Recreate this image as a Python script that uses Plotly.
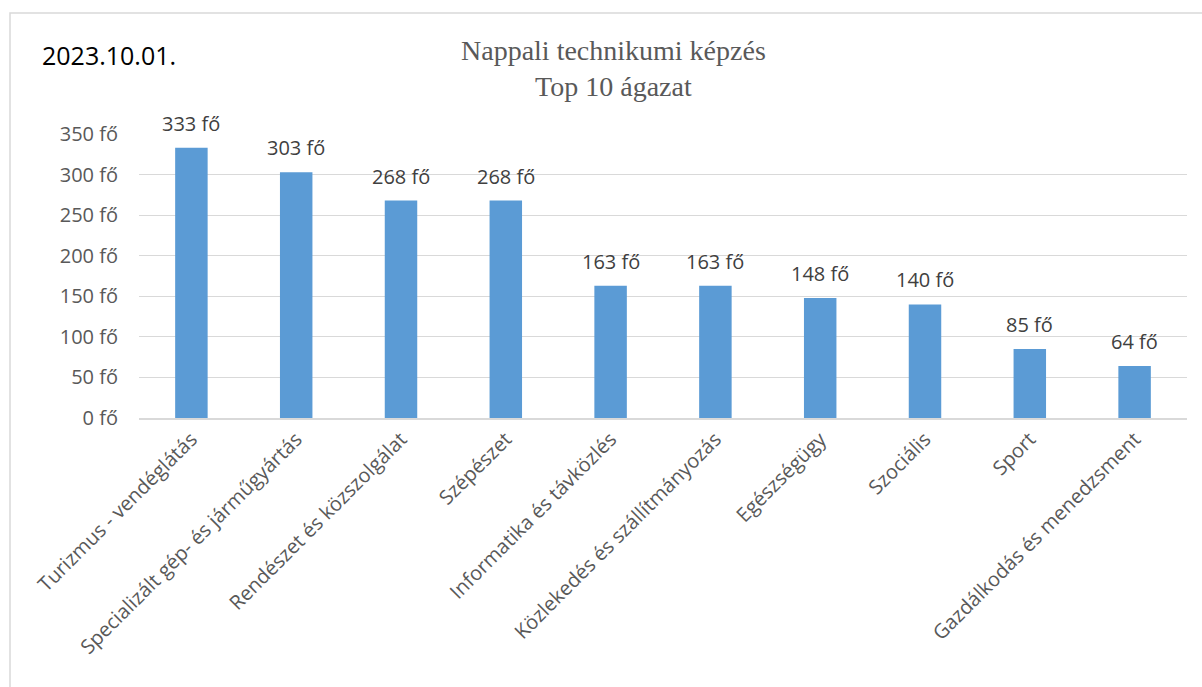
import plotly.graph_objects as go

# Top 10 ágazat, nappali technikumi képzés
agazatok = [
    "Turizmus - vendéglátás",
    "Specializált gép- és járműgyártás",
    "Rendészet és közszolgálat",
    "Szépészet",
    "Informatika és távközlés",
    "Közlekedés és szállítmányozás",
    "Egészségügy",
    "Szociális",
    "Sport",
    "Gazdálkodás és menedzsment",
]
letszam = [333, 303, 268, 268, 163, 163, 148, 140, 85, 64]
y_ticks = [0, 50, 100, 150, 200, 250, 300, 350]

W, H = 1202, 687
L, R, T, B = 139, 15, 134, 269
pw, ph = W - L - R, H - T - B
SANS = "Open Sans, Noto Sans, sans-serif"


def px_x(x):
    return (x - L) / pw


def px_y(y):
    return (H - B - y) / ph


fig = go.Figure()
fig.add_trace(go.Bar(
    x=agazatok, y=letszam,
    marker=dict(color="#5B9BD5", line=dict(width=0)),
    hovertemplate="%{x}: %{y} fő<extra></extra>",
))

# value labels above the bars
for name, v in zip(agazatok, letszam):
    fig.add_annotation(
        x=name, y=v, text=f"{v} fő", showarrow=False,
        yanchor="bottom", yshift=9,
        font=dict(family=SANS, size=20, color="#404040"),
    )

fig.update_layout(
    width=W, height=H,
    margin=dict(l=L, r=R, t=T, b=B),
    paper_bgcolor="white", plot_bgcolor="white",
    bargap=0.69,
    showlegend=False,
    font=dict(family=SANS, color="#595959"),
)

fig.update_xaxes(
    tickangle=-45, tickfont=dict(size=20, color="#595959"),
    showgrid=False, showline=True, linecolor="#d9d9d9", linewidth=1.5,
    ticks="", ticklen=0,
)
fig.update_yaxes(
    range=[0, 350], tickvals=y_ticks, ticktext=[f"{v} fő" for v in y_ticks],
    tickfont=dict(size=20, color="#595959"),
    showgrid=True, gridcolor="#d9d9d9", gridwidth=1.2,
    zeroline=False, showline=False, ticks="", ticklabelstandoff=20,
)

# title
fig.add_annotation(
    text="Nappali technikumi képzés<br>Top 10 ágazat",
    xref="paper", yref="paper", x=px_x(613), y=px_y(68),
    xanchor="center", yanchor="middle", showarrow=False,
    font=dict(family="Liberation Serif, Times New Roman, serif", size=28, color="#595959"),
)
# date
fig.add_annotation(
    text="2023.10.01.",
    xref="paper", yref="paper", x=px_x(40), y=px_y(55),
    xanchor="left", yanchor="middle", showarrow=False,
    font=dict(family=SANS, size=25, color="#000000"),
)

# chart frame
fig.add_shape(
    type="rect", xref="paper", yref="paper",
    x0=px_x(10), x1=px_x(1240), y0=px_y(720), y1=px_y(13),
    line=dict(color="#d9d9d9", width=1.5), layer="below",
)

# page body has a default 8px margin; drop it so the figure sits at 0,0
fig.write_html("out.html", config={"displayModeBar": False},
               post_script="document.body.style.margin='0';")
